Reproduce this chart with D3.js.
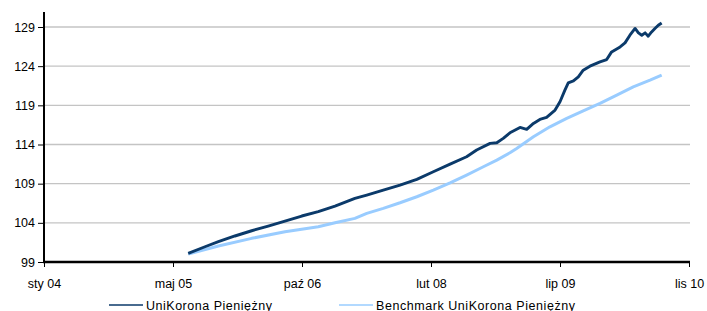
<!DOCTYPE html>
<html>
<head>
<meta charset="utf-8">
<script src="https://cdn.jsdelivr.net/npm/d3@7"></script>
<style>
  html, body { margin: 0; padding: 0; background: #fff; }
  svg { display: block; }
  text { font-family: "Liberation Sans", Arial, sans-serif; fill: #000; }
</style>
</head>
<body>
<svg id="chart" width="707" height="311"></svg>
<script>
// ---- data ----
const seriesNames = ["UniKorona Pieniężny", "Benchmark UniKorona Pieniężny"];

const fundDates = [
  "2005-07-26","2005-09-29","2005-11-20","2006-01-23","2006-03-29","2006-06-01",
  "2006-08-05","2006-10-09","2006-12-12","2007-02-15","2007-05-03","2007-06-18",
  "2007-08-21","2007-10-25","2007-12-29","2008-03-02","2008-05-06","2008-07-09",
  "2008-08-17","2008-10-08","2008-11-03","2008-11-28","2008-12-24","2009-02-01",
  "2009-02-27","2009-03-25","2009-04-19","2009-05-15","2009-06-17","2009-07-06",
  "2009-07-25","2009-08-07","2009-08-27","2009-09-15","2009-10-04","2009-10-30",
  "2009-12-08","2010-01-03","2010-01-22","2010-02-24","2010-03-15","2010-04-03",
  "2010-04-23","2010-05-06","2010-05-19","2010-06-01","2010-06-13","2010-06-26",
  "2010-07-09","2010-07-22","2010-08-04"
];
const fundValues = [
  100.11,100.95,101.59,102.32,102.99,103.59,
  104.23,104.87,105.42,106.14,107.12,107.55,
  108.18,108.82,109.55,110.52,111.50,112.43,
  113.29,114.14,114.22,114.78,115.49,116.18,
  115.93,116.69,117.20,117.46,118.39,119.45,
  120.94,121.87,122.12,122.64,123.49,124.00,
  124.55,124.85,125.82,126.46,126.97,127.95,
  128.81,128.25,127.95,128.25,127.83,128.37,
  128.81,129.23,129.52
];

const benchDates = [
  "2005-07-26","2005-11-20","2006-03-29","2006-08-05","2006-12-12","2007-02-15",
  "2007-05-03","2007-06-18","2007-08-21","2007-10-25","2007-12-29","2008-03-02",
  "2008-05-06","2008-07-09","2008-09-12","2008-11-03","2008-12-24","2009-01-19",
  "2009-03-25","2009-05-28","2009-08-01","2009-10-04","2009-12-08","2010-02-11",
  "2010-04-16","2010-06-20","2010-08-04"
];
const benchValues = [
  100.02,101.04,102.02,102.86,103.50,104.01,
  104.57,105.21,105.85,106.56,107.33,108.18,
  109.11,110.10,111.16,112.01,112.94,113.50,
  114.98,116.26,117.33,118.30,119.24,120.30,
  121.36,122.21,122.85
];

const yTicks = [99, 104, 109, 114, 119, 124, 129];
const xTickDates = ["2004-01-14","2005-05-28","2006-10-10","2008-02-22","2009-07-06","2010-11-18"];
const xTickLabels = ["sty 04","maj 05","paź 06","lut 08","lip 09","lis 10"];

// ---- chart ----
const parse = d3.utcParse("%Y-%m-%d");
const svg = d3.select("#chart");

const x = d3.scaleUtc()
  .domain([parse(xTickDates[0]), parse(xTickDates[xTickDates.length - 1])])
  .range([44, 689]);
const y = d3.scaleLinear().domain([99, 129]).range([262, 27]);

const colors = ["#0b3a6a", "#99ccff"];

// gridlines
svg.append("g").selectAll("line").data(yTicks.slice(1)).join("line")
  .attr("x1", 44).attr("x2", 690)
  .attr("y1", d => y(d)).attr("y2", d => y(d))
  .attr("stroke", "#c4c4c4").attr("stroke-width", 1.3);

// y axis
const yAxis = d3.axisLeft(y).tickValues(yTicks).tickSize(6).tickPadding(3).tickFormat(d3.format("d"));
const gy = svg.append("g").attr("transform", "translate(44,0)").call(yAxis);
gy.select(".domain").remove();
gy.selectAll(".tick line").attr("stroke", "#000").attr("stroke-width", 1);
gy.selectAll(".tick text").style("font-size", "12.5px").attr("fill", "#000")
  .style("font-family", "'Liberation Sans', Arial, sans-serif");
svg.append("line").attr("x1", 44).attr("x2", 44).attr("y1", 12).attr("y2", 263)
  .attr("stroke", "#000").attr("stroke-width", 2);

// x axis
const xAxis = d3.axisBottom(x).tickValues(xTickDates.map(parse)).tickSize(5).tickPadding(12)
  .tickFormat((d, i) => xTickLabels[i]);
const gx = svg.append("g").attr("transform", "translate(0,262)").call(xAxis);
gx.select(".domain").remove();
gx.selectAll(".tick line").attr("stroke", "#000").attr("stroke-width", 1);
gx.selectAll(".tick text").style("font-size", "12.5px").attr("fill", "#000")
  .style("font-family", "'Liberation Sans', Arial, sans-serif");
svg.append("line").attr("x1", 43).attr("x2", 690).attr("y1", 262).attr("y2", 262)
  .attr("stroke", "#000").attr("stroke-width", 2.5);

// lines
const line = d3.line().x(d => x(d[0])).y(d => y(d[1]));
const bench = benchDates.map((d, i) => [parse(d), benchValues[i]]);
const fund = fundDates.map((d, i) => [parse(d), fundValues[i]]);
svg.append("path").datum(bench).attr("d", line)
  .attr("fill", "none").attr("stroke", colors[1]).attr("stroke-width", 3)
  .attr("stroke-linejoin", "round");
svg.append("path").datum(fund).attr("d", line)
  .attr("fill", "none").attr("stroke", colors[0]).attr("stroke-width", 2.9)
  .attr("stroke-linejoin", "round");

// legend
const legendX = [109, 339];
const legendTextLen = [126, 199];
const lg = svg.append("g");
seriesNames.forEach((name, i) => {
  lg.append("line").attr("x1", legendX[i]).attr("x2", legendX[i] + 34)
    .attr("y1", 305).attr("y2", 305).attr("stroke", colors[i]).attr("stroke-width", 1.5);
  lg.append("text").attr("x", legendX[i] + 37).attr("y", 309.5)
    .attr("textLength", legendTextLen[i]).attr("lengthAdjust", "spacing")
    .style("font-size", "12.5px").text(name);
});
</script>
</body>
</html>
